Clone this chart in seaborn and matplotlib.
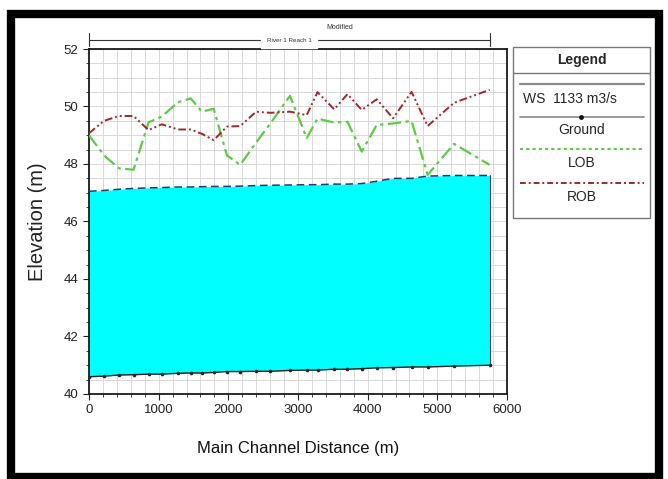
import matplotlib
matplotlib.use("Agg")
import matplotlib.pyplot as plt
import matplotlib.patches as patches
import matplotlib.transforms as mtransforms
from matplotlib.ticker import MultipleLocator
import seaborn as sns
import pandas as pd

# Profil en long
stations = [0, 215, 430, 640, 855, 1045, 1280, 1460, 1620, 1790, 1980, 2170, 2400,
            2600, 2885, 3125, 3280, 3520, 3710, 3915, 4130, 4365, 4630, 4860, 5240, 5750]
ws = [47.05, 47.08, 47.12, 47.15, 47.17, 47.18, 47.20, 47.20, 47.21, 47.22, 47.22, 47.23, 47.25,
      47.26, 47.27, 47.28, 47.28, 47.30, 47.30, 47.32, 47.40, 47.50, 47.50, 47.58, 47.60, 47.60]
ground = [40.60, 40.62, 40.66, 40.67, 40.69, 40.69, 40.72, 40.73, 40.73, 40.75, 40.78, 40.78, 40.79,
          40.79, 40.82, 40.83, 40.83, 40.86, 40.86, 40.88, 40.91, 40.92, 40.94, 40.94, 40.97, 41.00]
lob = [49.00, 48.30, 47.85, 47.80, 49.45, 49.65, 50.15, 50.28, 49.82, 49.92, 48.30, 47.97, 48.75,
       49.40, 50.37, 48.90, 49.58, 49.44, 49.47, 48.43, 49.36, 49.41, 49.50, 47.62, 48.70, 47.97]
rob = [49.07, 49.50, 49.67, 49.67, 49.18, 49.38, 49.20, 49.20, 49.05, 48.83, 49.30, 49.32, 49.82,
       49.78, 49.82, 49.70, 50.50, 49.90, 50.43, 49.88, 50.25, 49.59, 50.51, 49.32, 50.13, 50.58]

ws_label = "WS  1133 m3/s"
reach_label = "River 1 Reach 1"
plan_label = "Modified"

GREEN = "#5ccb45"
RED = "#a3262a"

sns.set_theme(style="white")
plt.rcParams['font.family'] = ['Liberation Sans Narrow', 'Liberation Sans', 'DejaVu Sans']

df = pd.DataFrame({"station": stations, "ws": ws, "ground": ground, "lob": lob, "rob": rob})

fig = plt.figure(figsize=(6.68, 4.79), dpi=100)
fig.patch.set_facecolor("white")

ax = fig.add_axes([0.1332, 0.1775, 0.6258, 0.7202])

# grille
ax.xaxis.set_major_locator(MultipleLocator(1000))
ax.xaxis.set_minor_locator(MultipleLocator(200))
ax.yaxis.set_major_locator(MultipleLocator(2))
ax.yaxis.set_minor_locator(MultipleLocator(0.5))
ax.grid(True, which="both", color="#d9d9d9", lw=0.7, zorder=0)

# eau
ax.fill_between(df["station"], df["ground"], df["ws"], color="#00ffff", lw=0, zorder=2)
sns.lineplot(data=df, x="station", y="ws", ax=ax, color="#1b3f73", lw=1.1,
             linestyle=(0, (5, 3)), zorder=3)
ax.plot([stations[-1], stations[-1]], [ground[-1], ws[-1]], color="#1b3f73", lw=0.8, zorder=3)

# terrain
sns.lineplot(data=df, x="station", y="ground", ax=ax, color="#222222", lw=1.0,
             marker="o", markersize=2.6, markeredgewidth=0, zorder=4)

# berges
sns.lineplot(data=df, x="station", y="lob", ax=ax, color=GREEN, lw=1.6,
             linestyle=(0, (6, 2, 1.5, 2)), zorder=4)
sns.lineplot(data=df, x="station", y="rob", ax=ax, color=RED, lw=1.4,
             linestyle=(0, (4, 1.5, 1, 1.5, 1, 1.5)), zorder=4)

ax.set_xlim(0, 6000)
ax.set_ylim(40, 52)
ax.set_xlabel("Main Channel Distance (m)", fontsize=12, labelpad=18, color="#111111")
ax.set_ylabel("Elevation (m)", fontsize=14.5, labelpad=12, color="#222222")
ax.tick_params(which="major", direction="out", length=4, width=0.8, labelsize=9.5,
               colors="#222222", left=True, bottom=True)
ax.tick_params(which="minor", direction="out", length=2, width=0.6, left=True, bottom=True)
for side in ["left", "bottom", "top", "right"]:
    ax.spines[side].set_color("#1a1a1a")
    ax.spines[side].set_linewidth(1.3)

# barre du tronçon au-dessus du graphique
trans = mtransforms.blended_transform_factory(ax.transData, ax.transAxes)
ax.plot([0, stations[-1]], [1.026, 1.026], transform=trans, color="#333333", lw=0.8, clip_on=False)
for xe in [0, stations[-1]]:
    ax.plot([xe, xe], [1.01, 1.045], transform=trans, color="#333333", lw=0.8, clip_on=False)
ax.text(stations[-1] / 2, 1.026, reach_label, transform=trans, fontsize=4.5, ha="center",
        va="center", color="#333333", backgroundcolor="white", clip_on=False)
fig.text(0.508, 0.942, plan_label, fontsize=5, ha="center", va="center", color="#333333")

# légende dessinée à la main
lax = fig.add_axes([0.768, 0.545, 0.205, 0.357])
lax.set_xlim(0, 1)
lax.set_ylim(0, 1)
lax.axis("off")
lax.add_patch(patches.Rectangle((0, 0), 1, 1, fill=False, ec="#777777", lw=1.0,
                                transform=lax.transAxes, clip_on=False))
lax.plot([0, 1], [0.848, 0.848], color="#777777", lw=1.0)
lax.text(0.5, 0.924, "Legend", fontsize=10, fontweight="bold", ha="center", va="center")
lax.plot([0.05, 0.96], [0.784, 0.784], color="#8a8a8a", lw=1.6)
lax.text(0.07, 0.696, ws_label, fontsize=10, ha="left", va="center")
lax.plot([0.05, 0.96], [0.591, 0.591], color="#8a8a8a", lw=1.2)
lax.plot([0.5], [0.591], marker="o", color="#111111", markersize=2.5)
lax.text(0.5, 0.515, "Ground", fontsize=10, ha="center", va="center")
lax.plot([0.05, 0.96], [0.404, 0.404], color=GREEN, lw=1.5, linestyle=(0, (1.5, 1.5)))
lax.text(0.5, 0.322, "LOB", fontsize=10, ha="center", va="center")
lax.plot([0.05, 0.96], [0.205, 0.205], color=RED, lw=1.4, linestyle=(0, (3, 1.5, 1, 1.5)))
lax.text(0.5, 0.123, "ROB", fontsize=10, ha="center", va="center")

# cadre noir
fig.add_artist(patches.Rectangle((0.0165, 0.004), 0.97, 0.967, fill=False, ec="black",
                                 lw=6, transform=fig.transFigure))

fig.savefig("out.png", dpi=100)
